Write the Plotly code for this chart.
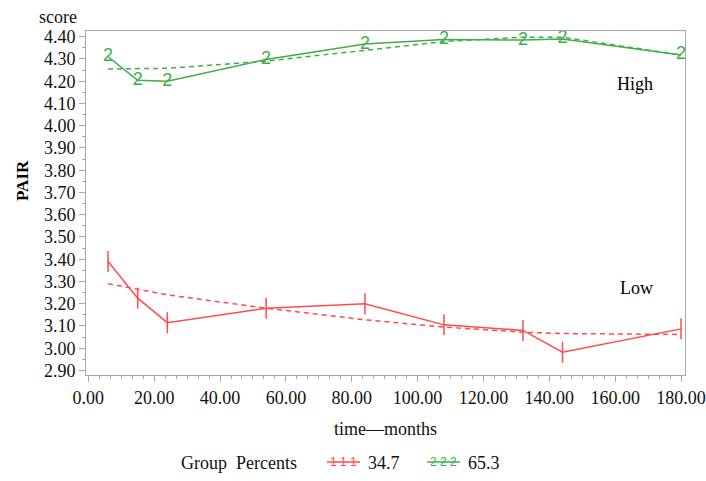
import plotly.graph_objects as go

months = [6, 15, 24, 54, 84, 108, 132, 144, 180]
low_obs = [3.39, 3.225, 3.115, 3.18, 3.20, 3.105, 3.08, 2.982, 3.087]
low_fit = [3.29, 3.265, 3.24, 3.18, 3.128, 3.095, 3.072, 3.066, 3.062]
high_obs = [4.31, 4.204, 4.20, 4.298, 4.367, 4.388, 4.385, 4.39, 4.318]
high_fit = [4.255, 4.255, 4.258, 4.29, 4.338, 4.378, 4.398, 4.398, 4.318]

group_labels = ["34.7", "65.3"]
y_ticks = [round(2.9 + 0.1 * i, 2) for i in range(16)]
x_ticks = list(range(0, 181, 20))

RED = "#ff4b4b"
GREEN = "#3fae48"
SERIF = "Liberation Serif"

fig = go.Figure()
fig.add_trace(go.Scatter(x=months, y=low_obs, mode="lines+markers",
                         line=dict(color=RED, width=1.5),
                         marker=dict(symbol="line-ns", size=15,
                                     line=dict(color=RED, width=1.5)),
                         showlegend=False))
fig.add_trace(go.Scatter(x=months, y=low_fit, mode="lines",
                         line=dict(color=RED, width=1.5, dash="5px,4px"),
                         showlegend=False))
fig.add_trace(go.Scatter(x=months, y=high_obs, mode="lines+text", text=["2"] * len(months),
                         textposition="middle center",
                         textfont=dict(family="Liberation Sans", size=18, color=GREEN),
                         line=dict(color=GREEN, width=1.5),
                         showlegend=False))
fig.add_trace(go.Scatter(x=months, y=high_fit, mode="lines",
                         line=dict(color=GREEN, width=1.5, dash="5px,4px"),
                         showlegend=False))

axis_common = dict(showline=True, linecolor="#a8a8a8", linewidth=1, mirror=True,
                   showgrid=False, zeroline=False, ticks="outside", ticklen=6,
                   tickcolor="#a8a8a8", tickwidth=1, automargin=False,
                   tickfont=dict(family=SERIF, size=18, color="#111"))

fig.update_xaxes(range=[-0.7, 181.2], tickvals=x_ticks,
                 ticktext=[f"{v:.2f}" for v in x_ticks],
                 minor=dict(dtick=20 / 6, tick0=0, ticks="outside", ticklen=3,
                            tickcolor="#a8a8a8"),
                 **axis_common)
fig.update_yaxes(range=[2.8797, 4.4257], tickvals=y_ticks,
                 ticktext=[f"{v:.2f}" for v in y_ticks],
                 minor=dict(dtick=0.05, tick0=2.9, ticks="outside", ticklen=3,
                            tickcolor="#a8a8a8"),
                 **axis_common)


def px(xp):
    return (xp - 86) / 599


def py(yp):
    return (375 - yp) / 344


def note(text, x, y, size=18, color="#111", xanchor="center", **kw):
    return dict(text=text, x=x, y=y, xref="paper", yref="paper", xanchor=xanchor,
                yanchor="middle", showarrow=False,
                font=dict(family=SERIF, size=size, color=color), **kw)


ann = []
ann.append(note("score", px(58), py(17)))
ann.append(note("<b>PAIR</b>", px(22), py(181), size=17, color="#000", textangle=-90))
ann.append(note("time\u2014months", px(385.5), py(429)))
ann.append(dict(text="High", x=166.0, y=4.186, xref="x", yref="y", showarrow=False,
                xanchor="center", yanchor="middle",
                font=dict(family=SERIF, size=18, color="#000")))
ann.append(dict(text="Low", x=166.6, y=3.269, xref="x", yref="y", showarrow=False,
                xanchor="center", yanchor="middle",
                font=dict(family=SERIF, size=18, color="#000")))

# legend drawn manually
ann.append(note("Group  Percents", px(179), py(463), xanchor="left"))
shapes = []
for col, glyph, x0, x1, lab in [(RED, "1", 327, 360, group_labels[0]),
                                (GREEN, "2", 427, 460, group_labels[1])]:
    shapes.append(dict(type="line", xref="paper", yref="paper", x0=px(x0), x1=px(x1),
                       y0=py(462), y1=py(462), line=dict(color=col, width=1.5)))
    ann.append(dict(text=" ".join([glyph] * 3), x=px((x0 + x1) / 2), y=py(462),
                    xref="paper", yref="paper", showarrow=False,
                    xanchor="center", yanchor="middle",
                    font=dict(family="Liberation Sans", size=12, color=col)))
    ann.append(note(lab, px(x1 + 6), py(463), xanchor="left"))

fig.update_layout(width=706, height=481, margin=dict(l=86, r=21, t=31, b=106),
                  plot_bgcolor="white", paper_bgcolor="white",
                  annotations=ann, shapes=shapes)
fig.write_html("out.html", config={"displayModeBar": False},
               post_script="document.body.style.margin='0';"
                           "document.body.style.overflow='hidden';")
